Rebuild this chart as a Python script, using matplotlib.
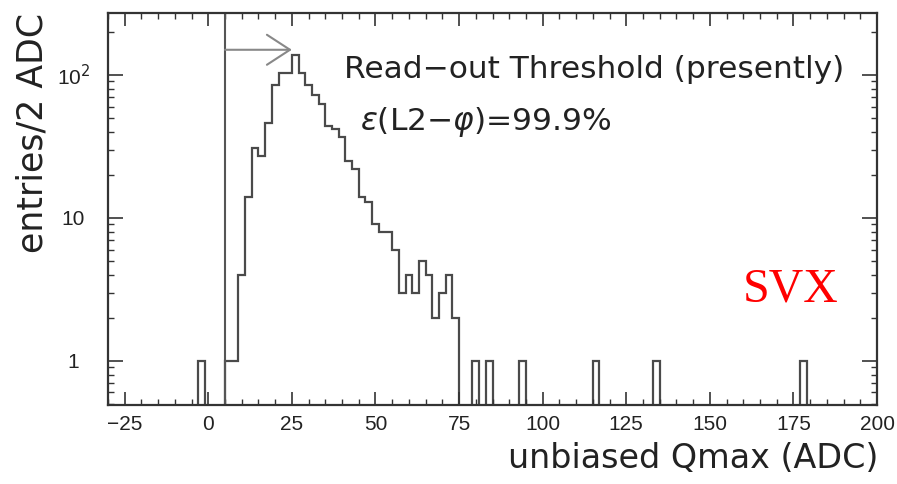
import numpy as np
import matplotlib.pyplot as plt
from matplotlib.ticker import MultipleLocator, FixedLocator, FixedFormatter, LogLocator, NullFormatter

# non-empty 2 ADC bins: left edge and number of entries
bin_left = [-3, 5, 7, 9, 11, 13, 15, 17, 19, 21, 23, 25, 27, 29, 31, 33, 35,
            37, 39, 41, 43, 45, 47, 49, 51, 53, 55, 57, 59, 61, 63, 65, 67, 69,
            71, 73, 79, 83, 93, 115, 133, 177]
entries = [1, 1, 1, 4, 14, 31, 27, 46, 85, 103, 103, 138, 103, 85, 72, 63, 44,
           42, 37, 25, 22, 14, 13, 9, 8, 8, 6, 3, 4, 3, 5, 4, 2, 3,
           4, 2, 1, 1, 1, 1, 1, 1]

threshold = 5
arrow_end = 25
x_ticks = [-25, 0, 25, 50, 75, 100, 125, 150, 175, 200]
y_ticks = [1, 10, 100]
y_ticklabels = ["1", "10", "10$^{2}$"]

LINE = "#4a4a4a"
FRAME = "#333333"

edges = np.arange(-31, 203, 2)
counts, _ = np.histogram(np.array(bin_left) + 1, bins=edges, weights=entries)

fig = plt.figure(figsize=(8.97, 4.84), dpi=100)
ax = fig.add_axes([108 / 897, 1 - 405 / 484, 769 / 897, 391.7 / 484])
ax.set_yscale("log")

ax.stairs(counts, edges, color=LINE, lw=1.6)
ax.axvline(threshold, color="#555555", lw=1.5)
ax.annotate("", xy=(arrow_end, 150), xytext=(threshold, 150),
            arrowprops=dict(arrowstyle="->,head_length=1.66,head_width=1.08",
                            color="#888888", lw=1.5, shrinkA=0, shrinkB=0))

ax.set_xlim(-30, 200)
ax.set_ylim(0.49, 270)

ax.xaxis.set_major_locator(FixedLocator(x_ticks))
ax.xaxis.set_minor_locator(MultipleLocator(5))
ax.yaxis.set_major_locator(FixedLocator(y_ticks))
ax.yaxis.set_major_formatter(FixedFormatter(y_ticklabels))
ax.yaxis.set_minor_locator(LogLocator(subs=np.arange(2, 10)))
ax.yaxis.set_minor_formatter(NullFormatter())

ax.tick_params(which="both", direction="in", top=True, right=True,
               color=FRAME, labelcolor="#222222", labelsize=15)
ax.tick_params(axis="x", which="major", length=9.4, width=1.2, pad=7)
ax.tick_params(axis="y", which="major", length=10.8, width=1.2, pad=25)
ax.tick_params(which="minor", length=4.5, width=1.0)
for lab in ax.get_xticklabels() + ax.get_yticklabels():
    lab.set_family("Liberation Sans")
for lab in ax.get_yticklabels():
    lab.set_ha("center")

for sp in ax.spines.values():
    sp.set_color(FRAME)
    sp.set_linewidth(1.6)

ax.text(0.307, 0.835, "Read\u2212out Threshold (presently)", transform=ax.transAxes,
        fontsize=22.5, color="#222222", va="baseline", ha="left")
ax.text(0.328, 0.702, r"$\varepsilon$(L2$-\varphi$)=99.9%", transform=ax.transAxes,
        fontsize=22.5, color="#222222", va="baseline", ha="left")
ax.text(0.826, 0.263, "SVX", transform=ax.transAxes, family="Liberation Serif",
        fontsize=34.5, color="red", va="baseline", ha="left")

fig.text(878 / 897, 1 - 468 / 484, "unbiased Qmax (ADC)", fontsize=24,
         color="#222222", ha="right", va="baseline")
fig.text(33 / 897, 1 - 13 / 484, "entries/2 ADC", fontsize=25, rotation=90,
         color="#222222", ha="center", va="top")

fig.savefig("out.png", dpi=100)
